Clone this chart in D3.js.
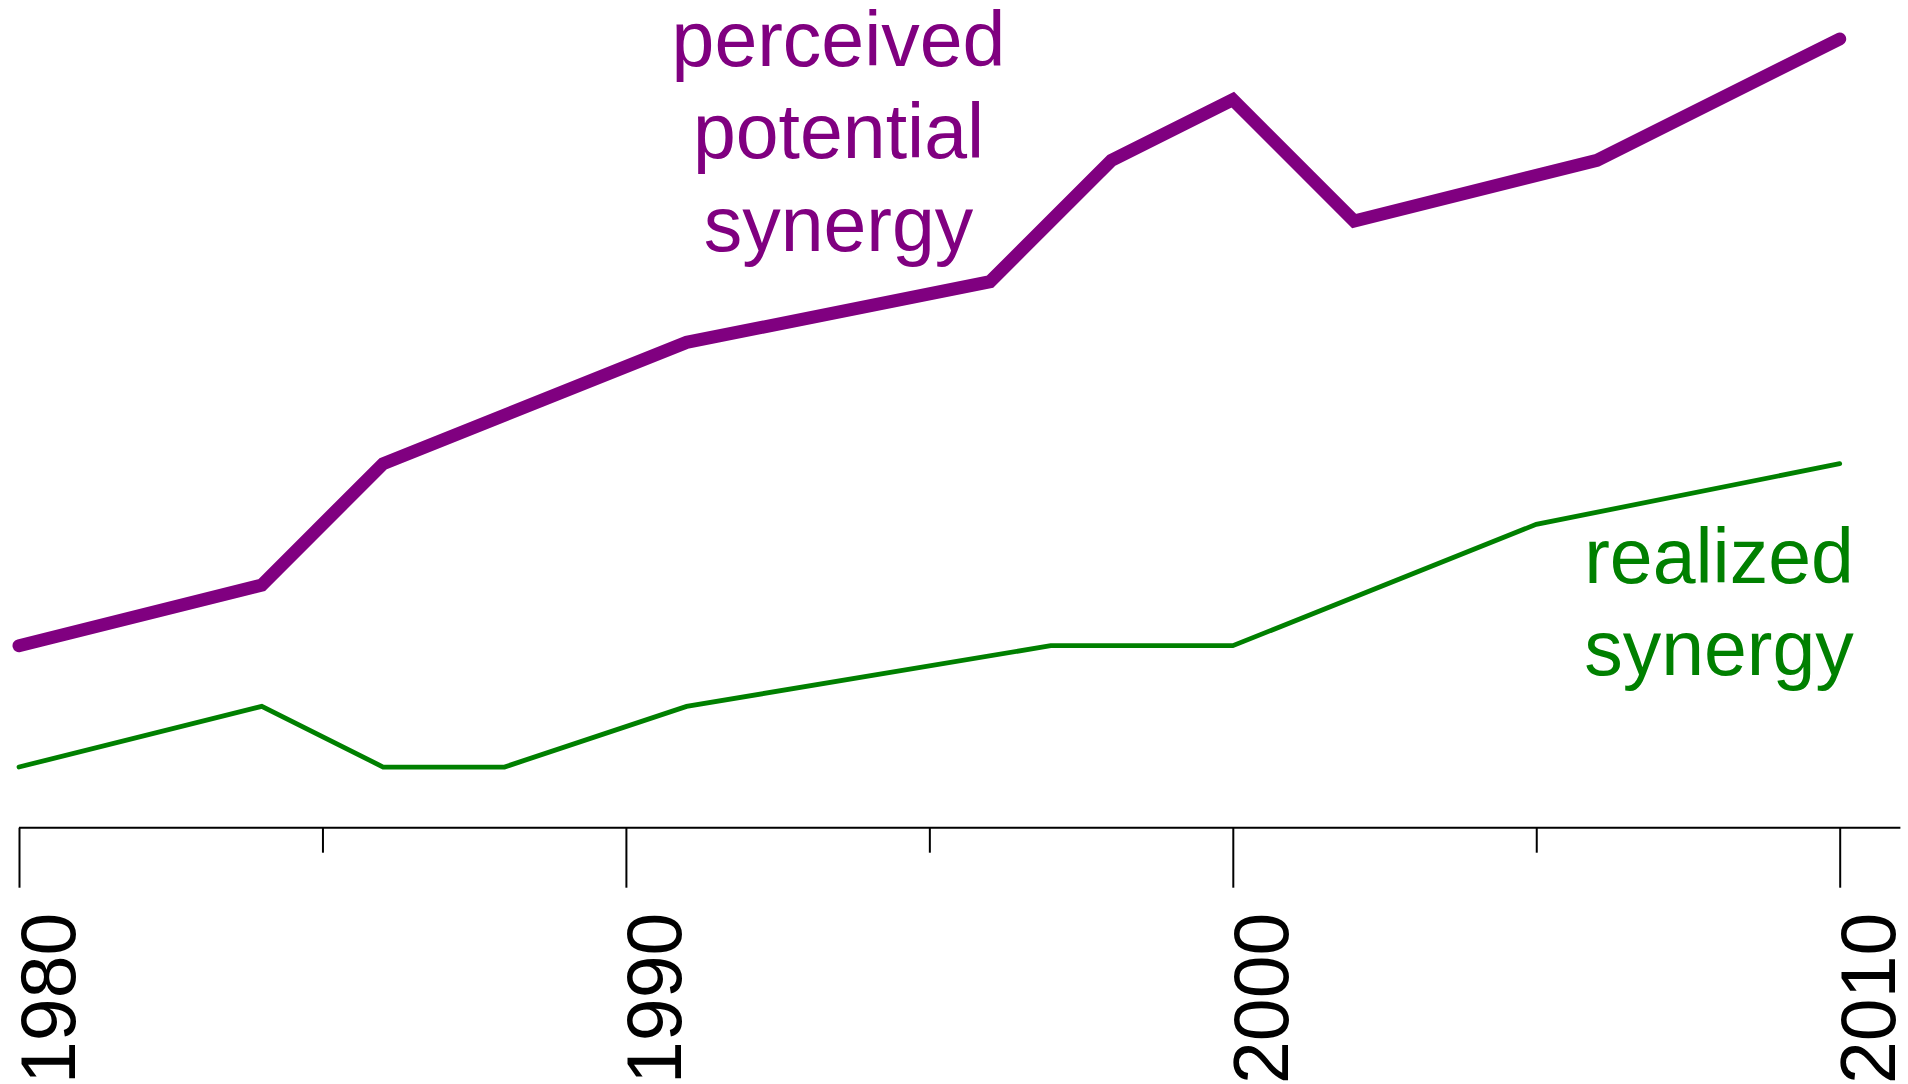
<!DOCTYPE html>
<html>
<head>
<meta charset="utf-8">
<script src="https://cdn.jsdelivr.net/npm/d3@7"></script>
<style>
  html, body { margin: 0; padding: 0; background: #fff; overflow: hidden; }
  svg { display: block; }
  text { font-family: "Liberation Sans", Arial, Helvetica, sans-serif; }
</style>
</head>
<body>
<svg id="chart" width="1908" height="1084"></svg>
<script>
// ---- data ----
const perceivedYears = [1980, 1984, 1986, 1991, 1996, 1998, 2000, 2002, 2006, 2010];
const perceivedValues = [3, 4, 6, 8, 9, 11, 12, 10, 11, 13];
const realizedYears = [1980, 1984, 1986, 1988, 1991, 1997, 2000, 2005, 2010];
const realizedValues = [1, 2, 1, 1, 2, 3, 3, 5, 6];
const majorTicks = [1980, 1990, 2000, 2010];
const minorTicks = [1985, 1995, 2005];
const perceivedLabel = ["perceived", "potential", "synergy"];
const realizedLabel = ["realized", "synergy"];

// ---- layout ----
const svg = d3.select("#chart");
const x = d3.scaleLinear().domain([1980, 2010]).range([19, 1839.7]);
const y = d3.scaleLinear().domain([0, 13]).range([827.7, 39]);

const purple = "#800080", green = "#008000";
const line = d3.line().x(d => x(d[0])).y(d => y(d[1]));

// axis baseline
svg.append("line")
  .attr("x1", x(1980)).attr("x2", x(2011))
  .attr("y1", y(0)).attr("y2", y(0))
  .attr("stroke", "#000").attr("stroke-width", 2);

const majorAxis = d3.axisBottom(x).tickValues(majorTicks).tickSize(60).tickPadding(0)
  .tickFormat(d3.format("d"));
const gMajor = svg.append("g").attr("transform", `translate(0,${y(0)})`).call(majorAxis);
gMajor.select(".domain").remove();
gMajor.selectAll(".tick line").attr("stroke", "#000").attr("stroke-width", 2);
gMajor.selectAll(".tick text")
  .attr("fill", "#000")
  .attr("font-size", 77)
  .attr("font-family", '"Liberation Sans", Arial, sans-serif')
  .attr("text-anchor", "end")
  .attr("dy", null)
  .attr("y", null)
  .attr("transform", "translate(55,85) rotate(-90)");

const minorAxis = d3.axisBottom(x).tickValues(minorTicks).tickSize(25).tickFormat("");
const gMinor = svg.append("g").attr("transform", `translate(0,${y(0)})`).call(minorAxis);
gMinor.select(".domain").remove();
gMinor.selectAll(".tick line").attr("stroke", "#000").attr("stroke-width", 2);

// lines
svg.append("path")
  .datum(d3.zip(realizedYears, realizedValues))
  .attr("d", line)
  .attr("fill", "none").attr("stroke", green)
  .attr("stroke-width", 4.8).attr("stroke-linecap", "round").attr("stroke-linejoin", "miter");

svg.append("path")
  .datum(d3.zip(perceivedYears, perceivedValues))
  .attr("d", line)
  .attr("fill", "none").attr("stroke", purple)
  .attr("stroke-width", 13).attr("stroke-linecap", "round").attr("stroke-linejoin", "miter");

// labels
const pl = svg.append("text").attr("fill", purple).attr("font-size", 77).attr("text-anchor", "middle");
perceivedLabel.forEach((t, i) => {
  pl.append("tspan").attr("x", 838.5).attr("y", 66 + i * 92.4).text(t);
});
const rl = svg.append("text").attr("fill", green).attr("font-size", 77).attr("text-anchor", "middle");
realizedLabel.forEach((t, i) => {
  rl.append("tspan").attr("x", 1719).attr("y", 583 + i * 92.4).text(t);
});
</script>
</body>
</html>
